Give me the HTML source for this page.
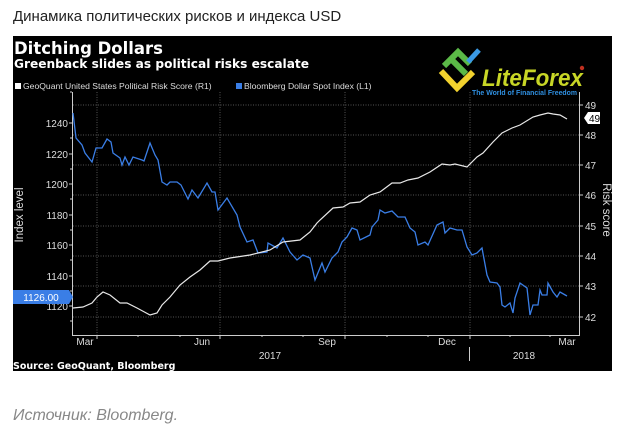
<!DOCTYPE html>
<html><head><meta charset="utf-8"><style>
body{margin:0;background:#fff;width:622px;height:439px;overflow:hidden;font-family:"Liberation Sans","DejaVu Sans",sans-serif}
</style></head><body>
<svg width="622" height="439" xmlns="http://www.w3.org/2000/svg" style="position:absolute;left:0;top:0">
<text x="13" y="21" font-size="15" fill="#222" font-family="Liberation Sans, DejaVu Sans, sans-serif">Динамика политических рисков и индекса USD</text>
<rect x="13" y="36" width="599" height="335" fill="#000"/>
<text x="14" y="54" font-size="17" font-weight="bold" fill="#fff" font-family="DejaVu Sans, sans-serif" textLength="149" lengthAdjust="spacingAndGlyphs">Ditching Dollars</text>
<text x="14" y="68" font-size="12" font-weight="bold" fill="#fff" font-family="DejaVu Sans, sans-serif" textLength="295" lengthAdjust="spacingAndGlyphs">Greenback slides as political risks escalate</text>
<rect x="15" y="83" width="6" height="6" fill="#fff"/>
<text x="23" y="89" font-size="8.6" fill="#ddd">GeoQuant United States Political Risk Score (R1)</text>
<rect x="236" y="83" width="6" height="6" fill="#3a7ee6"/>
<text x="244" y="89" font-size="8.6" fill="#ddd">Bloomberg Dollar Spot Index (L1)</text>
<!-- logo -->
<g>
<path d="M441 71 L457 88 L473 72" stroke="#f2d22e" stroke-width="6" fill="none"/>
<path d="M444 66 L458 52 L470 64 M452 60 L466 74" stroke="#5bb947" stroke-width="6" fill="none"/>
<path d="M468 62 L479 50" stroke="#3a9ae6" stroke-width="5" fill="none"/>
<text x="482" y="86" font-size="24" font-style="italic" font-weight="bold" fill="#c8d626" textLength="101" lengthAdjust="spacingAndGlyphs">LiteForex</text>
<circle cx="582" cy="68" r="2.2" fill="#c03020"/>
<text x="472" y="95" font-size="7.5" font-weight="bold" fill="#2f8fe0" textLength="105" lengthAdjust="spacingAndGlyphs">The World of Financial Freedom</text>
</g>
<!-- grid -->
<g stroke="#555" stroke-width="1" stroke-dasharray="1,1.5">
<line x1="73" x2="579" y1="105" y2="105"/><line x1="73" x2="579" y1="135" y2="135"/>
<line x1="73" x2="579" y1="165" y2="165"/><line x1="73" x2="579" y1="195" y2="195"/>
<line x1="73" x2="579" y1="226" y2="226"/><line x1="73" x2="579" y1="256" y2="256"/>
<line x1="73" x2="579" y1="286" y2="286"/><line x1="73" x2="579" y1="317" y2="317"/>
<line x1="97" x2="97" y1="92" y2="335"/><line x1="220" x2="220" y1="92" y2="335"/>
<line x1="345" x2="345" y1="92" y2="335"/><line x1="470" x2="470" y1="92" y2="335"/>
</g>
<g stroke="#ccc" stroke-width="1" fill="none">
<line x1="72.5" y1="92" x2="72.5" y2="335"/>
<line x1="579.5" y1="92" x2="579.5" y2="335"/>
<line x1="72" y1="335.5" x2="580" y2="335.5"/>
<path d="M69 123h3M69 154h3M69 184h3M69 215h3M69 245h3M69 276h3M69 306h3M70 92h2M70 138h2M70 169h2M70 199h2M70 230h2M70 260h2M70 291h2M70 321h2"/>
<path d="M580 105h3M580 135h3M580 165h3M580 195h3M580 226h3M580 256h3M580 286h3M580 317h3"/>
<path d="M97 335v4M138 335v2M180 335v2M220 335v4M262 335v2M303 335v2M345 335v4M387 335v2M428 335v2M470 335v4M510 335v2M550 335v2"/>
<line x1="469.5" y1="347" x2="469.5" y2="361"/>
</g>
<g font-size="10" fill="#ddd" text-anchor="end">
<text x="68" y="127">1240</text><text x="68" y="158">1220</text><text x="68" y="188">1200</text>
<text x="68" y="219">1180</text><text x="68" y="249">1160</text><text x="68" y="280">1140</text><text x="68" y="310">1120</text>
</g>
<g font-size="10" fill="#ddd">
<text x="585" y="109">49</text><text x="585" y="139">48</text><text x="585" y="169">47</text><text x="585" y="199">46</text>
<text x="585" y="230">45</text><text x="585" y="260">44</text><text x="585" y="290">43</text><text x="585" y="321">42</text>
</g>
<g font-size="10" fill="#ddd" text-anchor="middle">
<text x="85" y="345">Mar</text><text x="202" y="345">Jun</text><text x="327" y="345">Sep</text>
<text x="447" y="345">Dec</text><text x="567" y="345">Mar</text>
<text x="270" y="359">2017</text><text x="524" y="359">2018</text>
</g>
<text transform="translate(23,215) rotate(-90)" font-size="11.5" fill="#ddd" text-anchor="middle">Index level</text>
<text transform="translate(603,210) rotate(90)" font-size="11.5" fill="#ddd" text-anchor="middle">Risk score</text>
<!-- blue -->
<polyline fill="none" stroke="#3a7ee6" stroke-width="1.3" points="73,113 76,138 82,145 85,153 92,162 96,148 102,148 107,139 111,142 113,153 120,158 122,165 125,157 129,165 133,157 142,160 144,161 150,143 155,155 158,160 162,182 167,185 170,182 177,182 181,185 188,199 192,190 198,198 207,183 212,192 215,192 218,210 227,198 237,215 240,227 247,242 253,240 258,253 267,252 268,243 277,248 283,238 290,252 297,260 303,255 310,258 315,280 322,263 325,272 332,258 338,252 342,242 347,237 352,228 357,230 360,240 370,235 372,227 378,220 380,210 385,213 392,211 398,217 405,217 410,228 415,232 418,245 425,242 428,245 437,225 443,222 445,233 450,228 457,230 462,230 467,247 472,255 477,253 482,248 487,275 490,282 497,283 500,287 502,305 505,307 510,303 513,313 515,298 520,283 527,288 530,315 533,305 538,305 540,290 542,295 547,295 548,283 553,292 557,297 560,292 567,296"/>
<!-- white -->
<polyline fill="none" stroke="#e8e8e8" stroke-width="1.2" points="73,308 83,307 92,303 97,297 103,292 110,295 120,303 127,303 137,308 150,315 157,313 162,305 170,297 180,285 190,277 200,270 210,261 218,261 230,258 250,255 270,250 283,242 300,240 310,232 317,223 320,220 333,208 343,207 350,203 360,202 370,195 380,192 392,183 400,183 408,180 418,178 430,172 442,164 450,165 455,164 467,167 477,157 483,153 493,142 502,133 512,128 520,125 533,117 540,115 548,113 553,114 560,115 567,119"/>
<rect x="13" y="290" width="56" height="14" fill="#3a7ee6"/>
<path d="M69 290 L73 297 L69 304 Z" fill="#3a7ee6"/>
<text x="41" y="301" font-size="10" fill="#fff" text-anchor="middle">1126.00</text>
<path d="M584 118 L588 112 L600 112 L600 124 L588 124 Z" fill="#fff"/>
<text x="589" y="122" font-size="10" fill="#000">49</text>
<text x="13" y="369" font-size="9.5" font-weight="bold" fill="#fff" font-family="DejaVu Sans, sans-serif">Source: GeoQuant, Bloomberg</text>
<text x="13" y="420" font-size="16" font-style="italic" fill="#888">Источник: Bloomberg.</text>
</svg>
</body></html>
